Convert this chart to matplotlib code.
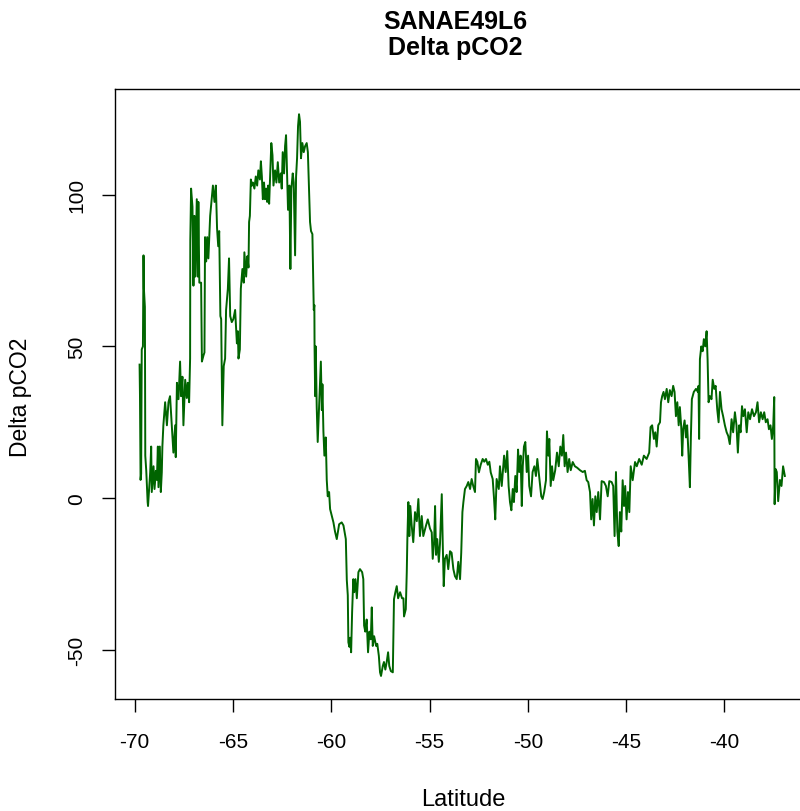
import matplotlib
matplotlib.use("Agg")
import matplotlib.pyplot as plt

# SANAE49L6 track: latitude vs delta pCO2
lat = [-69.75, -69.73, -69.70, -69.67, -69.64, -69.58, -69.55, -69.53, -69.48, -69.46,
       -69.41, -69.34, -69.32,
       -69.21, -69.16, -69.13, -69.04, -68.99, -68.92, -68.87, -68.82, -68.79, -68.72,
       -68.67, -68.62, -68.59,
       -68.54, -68.45, -68.36, -68.28, -68.20, -68.11, -68.03, -67.94, -67.91, -67.85,
       -67.77, -67.69, -67.64, -67.57, -67.52, -67.43, -67.35, -67.30, -67.23, -67.18,
       -67.17, -67.13, -67.06, -67.01, -66.96, -66.92, -66.84, -66.79, -66.76, -66.71,
       -66.62, -66.58, -66.50, -66.45, -66.42, -66.36, -66.31, -66.25, -66.16, -66.08,
       -66.02, -65.94, -65.87, -65.81, -65.75, -65.70, -65.64, -65.60, -65.57, -65.54,
       -65.47, -65.40,
       -65.35, -65.26, -65.20, -65.14, -65.06, -64.98, -64.89, -64.80, -64.75, -64.72,
       -64.65, -64.60, -64.52, -64.45, -64.42, -64.33, -64.27, -64.21, -64.18, -64.14,
       -64.09, -64.04, -63.99, -63.91, -63.84, -63.77, -63.71, -63.63, -63.58, -63.53,
       -63.48, -63.42, -63.37, -63.31, -63.26, -63.21, -63.16, -63.10, -63.05, -62.99,
       -62.94, -62.86, -62.79, -62.72, -62.65, -62.57, -62.52, -62.47, -62.40, -62.35,
       -62.30, -62.25, -62.20, -62.13, -62.08, -62.03, -61.96, -61.91, -61.84, -61.79,
       -61.74, -61.69, -61.64, -61.59, -61.54, -61.47, -61.40, -61.33, -61.25, -61.19,
       -61.08, -61.03, -60.96, -60.92, -60.89, -60.86, -60.85, -60.82, -60.79, -60.74,
       -60.69, -60.62, -60.53, -60.48, -60.45, -60.40, -60.35, -60.28, -60.23, -60.18,
       -60.11, -60.06, -59.89, -59.81, -59.72, -59.60, -59.47, -59.38,
       -59.26, -59.21, -59.16, -59.13, -59.08, -59.04, -58.99, -58.94, -58.88, -58.83,
       -58.77, -58.70, -58.62, -58.54, -58.43, -58.37, -58.33, -58.27, -58.20, -58.13,
       -58.06, -57.99, -57.94, -57.89, -57.82, -57.72, -57.66, -57.58, -57.52, -57.47,
       -57.38, -57.32, -57.25, -57.18, -57.11, -57.05, -56.97, -56.87, -56.81, -56.74,
       -56.67, -56.60, -56.50, -56.40, -56.33, -56.30, -56.21, -56.16, -56.13, -56.08,
       -56.03, -55.98, -55.91, -55.83, -55.74, -55.65, -55.57, -55.49, -55.40, -55.32,
       -55.18, -55.09, -54.98, -54.89, -54.84, -54.77, -54.72, -54.67, -54.61, -54.53,
       -54.47, -54.38, -54.33, -54.28, -54.22, -54.13, -54.05, -53.96, -53.88, -53.79,
       -53.71, -53.62, -53.54, -53.45, -53.39, -53.33, -53.28, -53.20, -53.11, -53.03,
       -52.94, -52.86, -52.78, -52.69, -52.64, -52.57, -52.49, -52.40, -52.30, -52.22,
       -52.13, -52.04, -51.96, -51.89, -51.79, -51.72, -51.66, -51.59, -51.48,
       -51.42, -51.33, -51.21, -51.13, -51.05, -50.98, -50.91, -50.84, -50.77, -50.71,
       -50.64, -50.57, -50.50, -50.44, -50.37, -50.31, -50.26, -50.20, -50.13, -50.06,
       -49.99, -49.93, -49.84, -49.76, -49.67, -49.59, -49.52, -49.45, -49.38, -49.32,
       -49.25, -49.17, -49.08, -49.03, -48.96, -48.91, -48.84, -48.77, -48.71, -48.61,
       -48.52, -48.43, -48.35, -48.27, -48.20, -48.13, -48.06, -47.98, -47.90, -47.82,
       -47.72, -47.61, -47.49, -47.35, -47.21, -47.10, -47.01, -46.93, -46.84, -46.78,
       -46.71, -46.64, -46.57, -46.50, -46.42, -46.33, -46.25, -46.13, -46.03, -45.94,
       -45.86, -45.74, -45.66, -45.59, -45.52, -45.45, -45.38, -45.32, -45.25, -45.18,
       -45.11, -45.05, -44.98, -44.91, -44.84, -44.77, -44.67, -44.55, -44.46, -44.34,
       -44.21, -44.10, -43.96, -43.83,
       -43.76, -43.68, -43.59, -43.52, -43.45, -43.37, -43.28, -43.23, -43.17, -43.10,
       -43.03, -42.94, -42.86, -42.78, -42.69, -42.61, -42.54, -42.47, -42.40, -42.33,
       -42.27, -42.20, -42.15, -42.10, -42.03, -41.96, -41.90, -41.82, -41.76, -41.71,
       -41.66, -41.56, -41.45, -41.35, -41.32, -41.29, -41.25, -41.18, -41.11, -41.05,
       -40.98, -40.91, -40.86, -40.81, -40.74, -40.66, -40.60, -40.52, -40.45, -40.37,
       -40.30, -40.23, -40.15, -40.07, -39.98, -39.89, -39.81, -39.73, -39.64, -39.56,
       -39.47, -39.39, -39.32, -39.25, -39.18, -39.11, -39.04, -38.96, -38.87, -38.79,
       -38.70, -38.60, -38.50, -38.40, -38.32, -38.24, -38.15, -38.06, -37.98, -37.90,
       -37.81, -37.74, -37.66, -37.59, -37.52, -37.47, -37.45, -37.40, -37.34, -37.27,
       -37.18, -37.10, -37.02, -36.93]

dpco2 = [44, 34, 6, 8, 49, 50, 80, 69, 63, 14,
         9, -1.3, -2.6,
         8.5, 17, 2, 10.5, 3, 9, 6, 17, 3.6, 17,
         2, 8.5, 17,
         24, 31.6, 24, 31.6, 33.6, 24, 15, 24, 13.5, 38,
         32.6, 45, 33.6, 40, 24, 39, 33, 38, 31.6, 46,
         85, 102, 96, 70, 93, 73, 98.5, 73, 97.6, 71,
         71, 45, 47, 48, 86, 78, 86, 79, 93, 98.5,
         103, 97.6, 103, 89, 83, 88, 60, 59, 41, 24,
         43.5, 46,
         62, 69, 79, 60, 58, 59, 62, 51, 55, 46,
         49, 69, 75.5, 71, 81, 73, 79.7, 76, 91, 93,
         105, 103, 104, 102, 106, 103, 108, 105, 111, 106,
         98.5, 104, 98.5, 102, 97.6, 103, 97, 108, 117, 113,
         103, 108, 104, 110.7, 104, 107, 102, 114, 107, 116,
         119.6, 107, 95, 103, 75.5, 102, 107, 104, 80, 106,
         112, 122.6, 126.5, 124, 112, 117, 114, 116, 117, 114,
         91, 88, 87, 73, 62, 63.6, 50, 33.6, 50, 30,
         18.5, 30, 45, 29, 37.5, 22, 14, 20, 6, 0.6,
         2, -3.6, -8, -11, -13.5, -8.6, -8, -9,
         -13.5, -27, -32, -47.5, -49, -46, -50.8, -37.6, -26.7, -31,
         -26.7, -33, -24.4, -23.4, -24.4, -26.7, -42, -44, -40, -50.8,
         -44, -46.5, -36, -48.7, -45.5, -48.7, -48, -52, -57.4, -58.6,
         -55.3, -54, -56.5, -54, -50.8, -55.3, -57, -57.4, -33.3, -31,
         -29, -33, -31, -33, -33, -39, -36.6, -24.4, -13.5, -1.3,
         -12.5, -2.6, -9, -14.5, -4.6, -7.6, -0.3, -12.5, -5.9, -12.5,
         -9, -7, -10, -11.3, -20, -14.5, -2.6, -18.7, -13.5, -21,
         -15, 1.3, -15, -29, -20, -18.7, -23.4, -17.5, -18, -23.4,
         -25.7, -26.7, -21, -26.7, -18, -4.6, -1.3, 3, 4, 5.3,
         3, 6.3, 4, 2, 12.9, 12, 8.5, 11, 12.9, 12,
         12.9, 11, 12, 8.5, 6.3, -0.3, -7, 6.3, 3,
         10.5, 4, 14, 8.6, 15.5, 4, -1.3, -4, 3, -1.3,
         7.3, 2, 16, 8.6, 14, -2.6, 10.5, 17, 18.5, 8.6,
         14, 4, 0.6, 8.6, 10.5, 7.3, 12.9, 8.6, 4, 0.6,
         -0.3, 2, 5.9, 22, 14, 19.5, 4, 10.5, 5.9, 9.2,
         15, 10.5, 17, 14, 20.8, 10.5, 15, 8.6, 12.9, 9.2,
         11.9, 10.5, 10, 9.2, 8.6, 9, 5.9, 5.3, 2, -7,
         -0.3, -9, 0.6, -4.6, 2, -7, 5.6, 5.3, 4, 0.6,
         5.6, 5.3, 4, -12.5, 8.6, -11, -15.8, -4.6, -11, 5.9,
         -2.6, 4, -7, 2, -4.6, 10.5, 5.9, 11.9, 10.5, 12.9,
         11, 14, 12.9, 15,
         23.4, 24, 19.5, 21.7, 17, 24, 25, 31.6, 33.6, 35,
         32.6, 36, 31.6, 35.6, 33.6, 37, 35, 27, 31.6, 24,
         30, 23.4, 14, 22.7, 25.6, 20, 24, 12.9, 3.6, 20,
         32.6, 35, 36, 35, 37, 19.5, 45.8, 50, 48.4, 52.4,
         50, 55, 45.8, 31.6, 33.6, 32.6, 39, 36, 37, 29.3,
         25, 35, 29.3, 27, 24, 21.7, 20.5, 17.8, 26, 21.7,
         28.3, 24, 15, 24, 21.7, 30.3, 27, 29.3, 21.7, 28.3,
         26, 29.3, 27, 28.3, 31.6, 25, 28.3, 26, 28.3, 25,
         26, 22.7, 24, 19.5, 24, 33.3, -2, 9.6, 8.6, -1,
         6, 4, 10.5, 7.3]

x_ticks = [-70, -65, -60, -55, -50, -45, -40]
y_ticks = [-50, 0, 50, 100]

plt.rcParams['font.family'] = ['Liberation Sans', 'DejaVu Sans']

fig = plt.figure(figsize=(8, 8.12), dpi=100)
ax = fig.add_axes([0.14375, 0.1379, 0.87, 0.7512])
ax.plot(lat, dpco2, color='#006400', lw=1.4)

ax.set_xlim(-71.0, -35.6)
ax.set_ylim(-66.2, 134.8)
ax.set_xticks(x_ticks)
ax.set_yticks(y_ticks)
ax.set_xticklabels([str(v) for v in x_ticks])
ax.set_yticklabels([str(v) for v in y_ticks], rotation=90, va='center')
ax.tick_params(axis='both', length=9.5, width=1, labelsize=15, direction='out')
ax.tick_params(axis='x', pad=14)
ax.tick_params(axis='y', pad=11)
for s in ax.spines.values():
    s.set_linewidth(1)

fig.text(455/800, 1 - 22/812, 'SANAE49L6', ha='center', va='center',
         fontsize=18, fontweight='bold')
fig.text(455/800, 1 - 48/812, 'Delta pCO2', ha='center', va='center',
         fontsize=18, fontweight='bold')
fig.text(463/800, 1 - 800/812, 'Latitude', ha='center', va='center', fontsize=17)
fig.text(21/800, 1 - 397/812, 'Delta pCO2', ha='center', va='center',
         fontsize=16.5, rotation=90)

fig.savefig('out.png', dpi=100)
